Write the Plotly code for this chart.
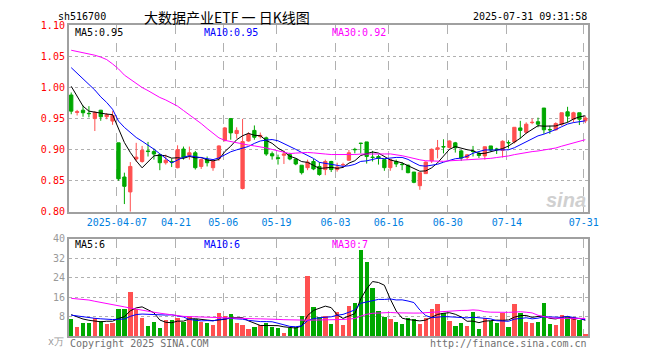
import pandas as pd
import plotly.graph_objects as go

# ---------------- data ----------------
holidays = ["2025-04-04", "2025-05-01", "2025-05-02", "2025-05-05", "2025-06-02"]
dates = [d.strftime("%Y-%m-%d") for d in pd.bdate_range("2025-03-25", "2025-07-31")
         if d.strftime("%Y-%m-%d") not in holidays]

open_ = [0.988, 0.960, 0.9635, 0.9585, 0.950, 0.9635, 0.953, 0.946, 0.911, 0.856,
         0.832, 0.885, 0.881, 0.898, 0.897, 0.892, 0.879, 0.881, 0.871, 0.901,
         0.891, 0.895, 0.873, 0.884, 0.871, 0.886, 0.915, 0.950, 0.926, 0.8375,
         0.914, 0.931, 0.921, 0.919, 0.8935, 0.887, 0.891, 0.892, 0.885, 0.875,
         0.871, 0.881, 0.873, 0.868, 0.881, 0.868, 0.8755, 0.883, 0.9005, 0.9105,
         0.9125, 0.888, 0.889, 0.884, 0.871, 0.881, 0.8765, 0.875, 0.864, 0.842,
         0.8615, 0.882, 0.9005, 0.905, 0.9036, 0.911, 0.898, 0.8875, 0.8975, 0.894,
         0.890, 0.906, 0.901, 0.899, 0.9115, 0.9125, 0.935, 0.928, 0.9435, 0.945,
         0.967, 0.9325, 0.932, 0.941, 0.961, 0.949, 0.9594, 0.9464]
high = [0.992, 0.964, 0.971, 0.970, 0.962, 0.964, 0.959, 0.962, 0.911, 0.863,
        0.880, 0.911, 0.906, 0.9125, 0.902, 0.893, 0.892, 0.886, 0.907, 0.905,
        0.905, 0.898, 0.886, 0.889, 0.883, 0.907, 0.9365, 0.951, 0.936, 0.9495,
        0.928, 0.939, 0.9276, 0.921, 0.897, 0.892, 0.8985, 0.895, 0.886, 0.875,
        0.884, 0.885, 0.880, 0.884, 0.882, 0.879, 0.879, 0.8995, 0.903, 0.911,
        0.9125, 0.898, 0.892, 0.885, 0.885, 0.884, 0.880, 0.876, 0.864, 0.863,
        0.881, 0.902, 0.9156, 0.9167, 0.915, 0.9125, 0.8995, 0.893, 0.906, 0.897,
        0.9047, 0.906, 0.903, 0.915, 0.915, 0.936, 0.9464, 0.944, 0.950, 0.9516,
        0.967, 0.9385, 0.944, 0.9594, 0.969, 0.961, 0.9594, 0.954]
low = [0.957, 0.955, 0.953, 0.952, 0.930, 0.9465, 0.949, 0.940, 0.850, 0.8125,
       0.800, 0.881, 0.879, 0.889, 0.884, 0.867, 0.876, 0.872, 0.870, 0.884,
       0.884, 0.868, 0.869, 0.873, 0.866, 0.882, 0.913, 0.916, 0.918, 0.836,
       0.913, 0.916, 0.918, 0.890, 0.884, 0.876, 0.877, 0.883, 0.875, 0.860,
       0.867, 0.867, 0.858, 0.859, 0.864, 0.8646, 0.871, 0.882, 0.894, 0.894,
       0.8776, 0.881, 0.876, 0.866, 0.866, 0.872, 0.867, 0.862, 0.846, 0.8354,
       0.861, 0.8786, 0.886, 0.894, 0.902, 0.8953, 0.882, 0.884, 0.889, 0.8865,
       0.8839, 0.897, 0.893, 0.8875, 0.902, 0.910, 0.918, 0.9255, 0.941, 0.936,
       0.9255, 0.9255, 0.9307, 0.9385, 0.944, 0.944, 0.9396, 0.9427]
close = [0.962, 0.961, 0.9594, 0.958, 0.960, 0.953, 0.956, 0.955, 0.853, 0.841,
         0.873, 0.888, 0.899, 0.897, 0.893, 0.879, 0.883, 0.880, 0.900, 0.888,
         0.895, 0.871, 0.884, 0.879, 0.881, 0.906, 0.935, 0.927, 0.931, 0.913,
         0.925, 0.920, 0.923, 0.893, 0.890, 0.886, 0.893, 0.885, 0.877, 0.863,
         0.880, 0.869, 0.860, 0.881, 0.868, 0.872, 0.876, 0.895, 0.900, 0.910,
         0.889, 0.8875, 0.886, 0.871, 0.884, 0.877, 0.876, 0.863, 0.8474, 0.863,
         0.880, 0.9005, 0.903, 0.9045, 0.914, 0.903, 0.8865, 0.8917, 0.897, 0.8906,
         0.9047, 0.8995, 0.9005, 0.9135, 0.911, 0.936, 0.931, 0.941, 0.944, 0.941,
         0.932, 0.932, 0.942, 0.9594, 0.954, 0.9594, 0.949, 0.951]
volume = [7.3, 4.0, 5.6, 5.6, 7.7, 6.4, 5.2, 5.6, 11.3, 11.3,
          18.4, 11.3, 7.7, 4.4, 6.0, 3.6, 6.7, 6.7, 7.7, 6.0,
          8.0, 7.3, 6.0, 5.6, 4.8, 9.6, 8.5, 9.2, 5.6, 4.8,
          3.2, 3.7, 4.5, 5.6, 4.0, 3.6, 1.3, 3.6, 4.0, 8.3,
          24.9, 12.0, 8.0, 8.3, 5.2, 10.0, 4.8, 12.4, 13.6, 35.6,
          30.4, 20.0, 10.4, 8.0, 7.2, 6.0, 5.2, 7.6, 7.2, 5.2,
          7.6, 11.2, 13.2, 9.6, 6.4, 4.4, 5.6, 4.4, 10.0, 3.2,
          7.6, 6.4, 5.6, 9.6, 4.0, 13.2, 9.6, 6.0, 5.6, 6.0,
          13.6, 5.2, 4.8, 8.8, 8.0, 8.0, 6.8, 0.8]

# moving-average values before a full window is visible
ma5_head = [1.002, 0.985, 0.970, 0.962]
ma10_head = [1.032, 1.023, 1.014, 1.005, 0.996, 0.985, 0.976, 0.965, 0.946]
ma30_head = [1.060, 1.058, 1.057, 1.055, 1.052, 1.049, 1.045, 1.038, 1.030, 1.020,
             1.013, 1.006, 1.000, 0.995, 0.989, 0.984, 0.980, 0.975, 0.970, 0.963,
             0.956, 0.950, 0.942, 0.934, 0.926, 0.919, 0.915, 0.913, 0.911]
vma5_head = [8.8, 7.8, 7.0, 6.5]
vma10_head = [8.6, 8.2, 7.8, 7.5, 7.3, 7.1, 6.9, 6.8, 6.9]
vma30_head = [15.5, 15.3, 15.1, 14.8, 14.3, 13.9, 13.5, 13.0, 12.5, 12.0,
              11.5, 11.0, 10.5, 10.1, 9.8, 9.4, 9.0, 8.6, 8.3, 8.1,
              8.0, 7.9, 7.9, 7.9, 7.8, 7.7, 7.6, 7.5, 7.4]

tick_dates = ["2025-04-07", "2025-04-21", "2025-05-06", "2025-05-19", "2025-06-03",
              "2025-06-16", "2025-06-30", "2025-07-14", "2025-07-31"]
tick_labels = ["2025-04-07", "04-21", "05-06", "05-19", "06-03", "06-16", "06-30", "07-14", "07-31"]
price_ticks = [0.80, 0.85, 0.90, 0.95, 1.00, 1.05, 1.10]
vol_ticks = [8, 16, 24, 32, 40]

# ---------------- derived ----------------
def moving(series, n, head):
    s = pd.Series(series).rolling(n).mean().tolist()
    return head + s[len(head):]

ma5 = moving(close, 5, ma5_head)
ma10 = moving(close, 10, ma10_head)
ma30 = moving(close, 30, ma30_head)
vma5 = moving(volume, 5, vma5_head)
vma10 = moving(volume, 10, vma10_head)
vma30 = moving(volume, 30, vma30_head)

x = list(range(len(dates)))
RED = "#FF5050"
GREEN = "#00A800"
bar_colors = [RED if c >= o else GREEN for o, c in zip(open_, close)]

W, H = 660, 360
L, R = 70, 597.5
MT, MB = 20, 212.3
VT, VB = 240, 340.5
px = lambda v: v / W
py = lambda v: 1 - v / H
MONO = "DejaVu Sans Mono"

fig = go.Figure()
fig.add_trace(go.Candlestick(
    x=x, open=open_, high=high, low=low, close=close,
    increasing=dict(line=dict(color=RED, width=1), fillcolor=RED),
    decreasing=dict(line=dict(color=GREEN, width=1), fillcolor=GREEN),
    whiskerwidth=0, xaxis="x", yaxis="y", hoverinfo="skip", showlegend=False))
for vals, col in [(ma5, "black"), (ma10, "#0000FF"), (ma30, "#FF00FF")]:
    fig.add_trace(go.Scatter(x=x, y=vals, mode="lines", line=dict(color=col, width=1),
                             xaxis="x", yaxis="y", showlegend=False, hoverinfo="skip"))
fig.add_trace(go.Bar(x=x, y=volume, marker=dict(color=bar_colors, line=dict(width=0)),
                     width=0.75, xaxis="x2", yaxis="y2", showlegend=False, hoverinfo="skip"))
for vals, col in [(vma5, "black"), (vma10, "#0000FF"), (vma30, "#FF00FF")]:
    fig.add_trace(go.Scatter(x=x, y=vals, mode="lines", line=dict(color=col, width=1),
                             xaxis="x2", yaxis="y2", showlegend=False, hoverinfo="skip"))

tick_idx = [dates.index(d) - 0.27 for d in tick_dates]
xr = [-(72.3 - L) / 6.0, (R - 72.3) / 6.0]
common_x = dict(range=xr, tickvals=tick_idx, showgrid=True, gridcolor="#B0B0B0",
                griddash="dash", gridwidth=1, zeroline=False, showline=True, mirror=True,
                linecolor="#A0A0A0", linewidth=2, ticks="", domain=[px(L), px(R)])
fig.update_layout(
    width=W, height=H, margin=dict(l=0, r=0, t=0, b=0), boxgap=0.2,
    paper_bgcolor="white", plot_bgcolor="white", bargap=0,
    xaxis=dict(**common_x, ticktext=tick_labels, anchor="y",
               tickfont=dict(family=MONO, size=10, color="#0080E0"),
               rangeslider=dict(visible=False)),
    yaxis=dict(domain=[py(MB), py(MT)], range=[0.80, 1.10], tickvals=price_ticks,
               ticktext=[f"{v:.2f}" for v in price_ticks], showgrid=True,
               gridcolor="#B0B0B0", griddash="dot", zeroline=False, showline=True,
               mirror=True, linecolor="#A0A0A0", linewidth=2, ticks="",
               tickfont=dict(family=MONO, size=10, color="#FF0000"), anchor="x"),
    xaxis2=dict(**common_x, showticklabels=False, anchor="y2"),
    yaxis2=dict(domain=[py(VB), py(VT)], range=[0, 40], tickvals=vol_ticks,
                showgrid=True, gridcolor="#B0B0B0", griddash="dot", zeroline=False,
                showline=True, mirror=True, linecolor="#A0A0A0", linewidth=2, ticks="",
                tickfont=dict(family=MONO, size=10, color="#999999"), anchor="x2"),
)

def text(s, xpx, ypx, color="black", size=10, family=MONO, xanchor="left"):
    fig.add_annotation(x=px(xpx), y=py(ypx), xref="paper", yref="paper", text=s,
                       showarrow=False, xanchor=xanchor, yanchor="middle",
                       font=dict(family=family, size=size, color=color))

text("sh516700", 57, 11)
text("大数据产业ETF 一 日K线图", 230, 11, size=14, family="Noto Sans CJK SC", xanchor="center")
text("2025-07-31 09:31:58", 598, 11, xanchor="right")
text(f"MA5:{ma5[-1]:.2f}", 74, 27)
text(f"MA10:{ma10[-1]:.2f}", 205, 27, color="#0000FF")
text(f"MA30:{ma30[-1]:.2f}", 335, 27, color="#FF00FF")
text(f"MA5:{int(vma5[-1])}", 74, 246)
text(f"MA10:{int(vma10[-1])}", 205, 246, color="#0000FF")
text(f"MA30:{int(vma30[-1])}", 335, 246, color="#FF00FF")
text("x万", 67, 346, color="#999999", xanchor="right")
text("Copyright 2025 SINA.COM", 69, 348, color="#707070")
text("http://finance.sina.com.cn", 598, 348, color="#707070", xanchor="right")
text("<b><i>sina</i></b>", 575, 200, color="#D0D0D0", size=20, family="Arial", xanchor="center")

fig.write_html("out.html", config={"displayModeBar": False},
               post_script="document.body.style.margin='0';document.body.style.overflow='hidden';")
